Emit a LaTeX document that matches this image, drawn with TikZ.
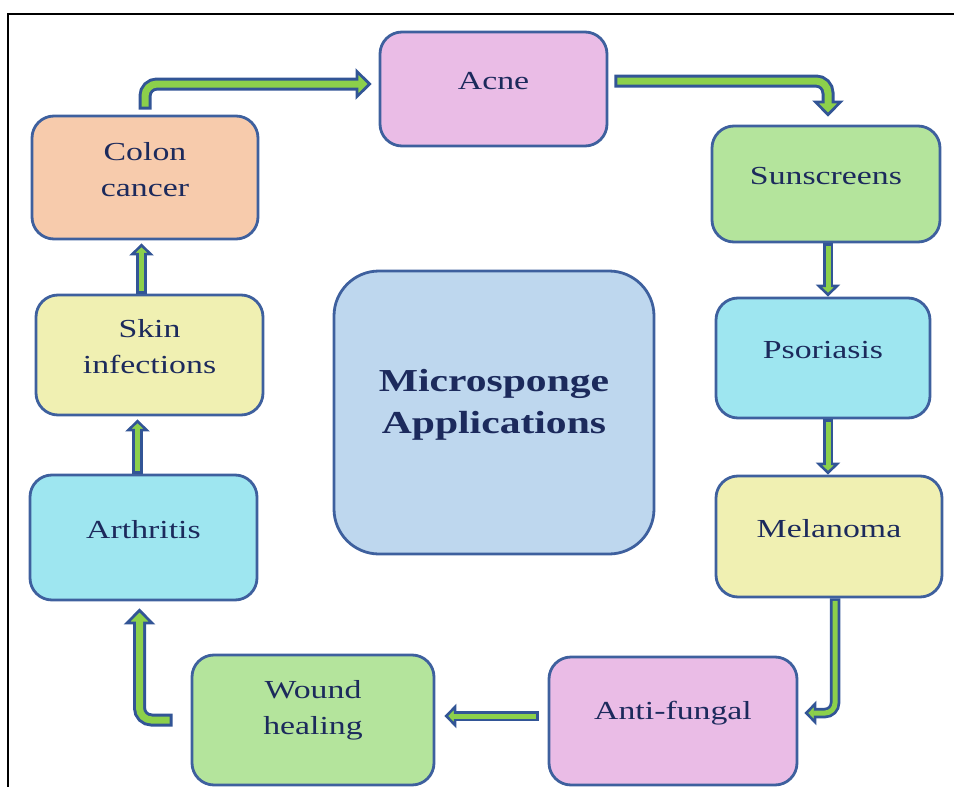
\documentclass[tikz,border=0pt]{standalone}
\usepackage{fontspec}
\setmainfont{Liberation Serif}[FakeStretch=1.3]
\usetikzlibrary{arrows.meta}
\definecolor{boxblue}{RGB}{62,96,158}
\definecolor{textnavy}{RGB}{28,42,92}
\definecolor{flowgreen}{RGB}{140,208,75}
\definecolor{flowblue}{RGB}{50,85,150}
\definecolor{pinkfill}{RGB}{234,188,230}
\definecolor{greenfill}{RGB}{180,228,156}
\definecolor{cyanfill}{RGB}{158,230,240}
\definecolor{yellowfill}{RGB}{240,240,178}
\definecolor{orangefill}{RGB}{247,203,172}
\definecolor{centrefill}{RGB}{190,215,238}
\tikzset{
  appbox/.style={draw=boxblue, line width=2.8pt, rounded corners=22pt, inner sep=0pt},
  apptext/.style={text=textnavy, align=center, font=\fontsize{26}{36}\selectfont},
  flowthick/.style={draw=flowgreen, line width=7pt, shorten <=3pt, shorten >=12pt,
    preaction={draw=flowblue, line width=13pt, shorten <=0pt, shorten >=0pt,
      -{Triangle[width=31pt, length=16pt, line width=2.8pt 0, fill=flowgreen]}}},
  flowthin/.style={draw=flowgreen, line width=5pt, shorten <=2.5pt, shorten >=9pt,
    preaction={draw=flowblue, line width=10.5pt, shorten <=0pt, shorten >=0pt,
      -{Triangle[width=24pt, length=12pt, line width=2.6pt 0, fill=flowgreen]}}}
}
\begin{document}
\begin{tikzpicture}[x=1pt, y=-1pt]
  \useasboundingbox (0,0) rectangle (954,787);
  \draw[line width=1.5pt] (8,787) -- (8,14) -- (954,14);
  % boxes
  \node[appbox, fill=pinkfill, minimum width=227pt, minimum height=114pt] (acne) at (493.5,89) {};
  \node[appbox, fill=greenfill, minimum width=228pt, minimum height=116pt] (sunscreens) at (826,184) {};
  \node[appbox, fill=cyanfill, minimum width=214pt, minimum height=120pt] (psoriasis) at (823,358) {};
  \node[appbox, fill=yellowfill, minimum width=226pt, minimum height=121pt] (melanoma) at (829,536.5) {};
  \node[appbox, fill=pinkfill, minimum width=248pt, minimum height=128pt] (antifungal) at (673,721) {};
  \node[appbox, fill=greenfill, minimum width=242pt, minimum height=130pt] (wound) at (313,720) {};
  \node[appbox, fill=cyanfill, minimum width=227pt, minimum height=125pt] (arthritis) at (143.5,537.5) {};
  \node[appbox, fill=yellowfill, minimum width=227pt, minimum height=120pt] (skin) at (149.5,355) {};
  \node[appbox, fill=orangefill, minimum width=226pt, minimum height=123pt] (colon) at (145,177.5) {};
  \node[appbox, fill=centrefill, rounded corners=45pt, minimum width=320pt, minimum height=283pt] (centre) at (494,412.5) {};
  % texts
  \node[apptext] (acnetext) at ([yshift=8pt]acne.center) {Acne};
  \node[apptext] (sunscreenstext) at ([yshift=8pt]sunscreens.center) {Sunscreens};
  \node[apptext] (psoriasistext) at ([yshift=8pt]psoriasis.center) {Psoriasis};
  \node[apptext] (melanomatext) at ([yshift=8pt]melanoma.center) {Melanoma};
  \node[apptext] (antifungaltext) at ([yshift=8pt]antifungal.center) {Anti-fungal};
  \node[apptext] (woundtext) at ([yshift=10pt]wound.center) {Wound\\healing};
  \node[apptext] (arthritistext) at ([yshift=8pt]arthritis.center) {Arthritis};
  \node[apptext] (skintext) at ([yshift=8pt]skin.center) {Skin\\infections};
  \node[apptext] (colontext) at ([yshift=8pt]colon.center) {Colon\\cancer};
  \node[apptext, font=\bfseries\fontsize{32}{42}\selectfont] (centretext) at ([yshift=8pt]centre.center) {Microsponge\\Applications};
  % arrows
  \draw[flowthick, rounded corners=12pt] ([yshift=5pt]colon.north) |- ([xshift=-7pt,yshift=5pt]acne.west);
  \draw[flowthick, rounded corners=12pt] ([xshift=6pt,yshift=8pt]acne.east) -| ([xshift=2pt,yshift=8pt]sunscreens.north);
  \draw[flowthin] ([xshift=2pt]sunscreens.south) -- ([xshift=2pt]sunscreens.south |- psoriasis.north);
  \draw[flowthin] ([xshift=5pt]psoriasis.south) -- ([xshift=5pt]psoriasis.south |- melanoma.north);
  \draw[flowthin, rounded corners=10pt] ([xshift=6pt]melanoma.south) |- ([xshift=6pt,yshift=8pt]antifungal.east);
  \draw[flowthin] ([xshift=-9pt,yshift=5pt]antifungal.west) -- ([xshift=9pt,yshift=5pt]antifungal.west -| wound.east);
  \draw[flowthick, rounded corners=12pt] ([xshift=-18pt]wound.west) -| ([xshift=-4pt,yshift=-7pt]arthritis.south);
  \draw[flowthin] ([xshift=-6pt]arthritis.north) -- ([xshift=-6pt,yshift=-3pt]arthritis.north |- skin.south);
  \draw[flowthin] ([xshift=-8pt]skin.north) -- ([xshift=-8pt,yshift=-3pt]skin.north |- colon.south);
\end{tikzpicture}
\end{document}
